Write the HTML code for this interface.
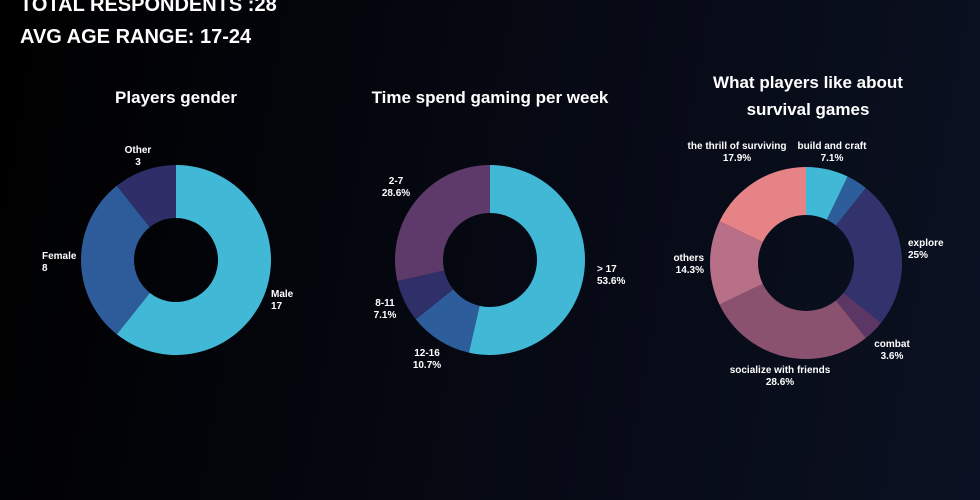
<!DOCTYPE html>
<html><head><meta charset="utf-8"><style>
body{margin:0;width:980px;height:500px;overflow:hidden;background:linear-gradient(100deg,#000 0%,#05070f 40%,#0b1122 100%);font-family:"Liberation Sans",sans-serif;color:#fff}
.hd{position:absolute;left:20px;font-weight:bold;font-size:20px}
svg{position:absolute;left:0;top:0}
</style></head><body>
<div class="hd" style="top:-6px">TOTAL RESPONDENTS :28</div>
<div class="hd" style="top:26px">AVG AGE RANGE: 17-24</div>
<svg id="s" width="980" height="500"></svg>
<script>
const g1Labels=["Male","Female","Other"];
const g1Values=[17,8,3];
const g1Text=["17","8","3"];
const g2Labels=["> 17","12-16","8-11","2-7"];
const g2Values=[15,3,2,8];
const g2Text=["53.6%","10.7%","7.1%","28.6%"];
const g3Labels=["build and craft","","explore","combat","socialize with friends","others","the thrill of surviving"];
const g3Values=[2,1,7,1,8,4,5];
const g3Text=["7.1%","","25%","3.6%","28.6%","14.3%","17.9%"];
const NS="http://www.w3.org/2000/svg",svg=document.getElementById('s');
function el(t,a){const e=document.createElementNS(NS,t);for(const k in a)e.setAttribute(k,a[k]);svg.appendChild(e);return e;}
function text(x,y,s,size,anchor,name){const t=el('text',{x:x,y:y,fill:'#fff','font-size':size,'font-weight':'bold','text-anchor':anchor,'font-family':'Liberation Sans, sans-serif'});t.textContent=s;return t;}
function donut(cx,cy,R,r,vals,cols,name){
 const tot=vals.reduce((a,b)=>a+b,0);let a0=0;
 vals.forEach((v,i)=>{const a1=a0+v/tot*2*Math.PI;
  const p=(a,rr)=>[cx+rr*Math.sin(a),cy-rr*Math.cos(a)];const L=(a1-a0)>Math.PI?1:0;
  const [x0,y0]=p(a0,R),[x1,y1]=p(a1,R),[x2,y2]=p(a1,r),[x3,y3]=p(a0,r);
  const path=el('path',{d:`M${x0},${y0}A${R},${R} 0 ${L} 1 ${x1},${y1}L${x2},${y2}A${r},${r} 0 ${L} 0 ${x3},${y3}Z`,fill:cols[i]});
  
  
  a0=a1;});
}
function labels(names,vals,pos,name){pos.forEach((d,i)=>{if(!names[i])return;text(d[0],d[1],names[i],10,d[2],name+'-label-'+i);text(d[0],d[1]+12,vals[i],10,d[2],name+'-value-'+i);});}
text(176,103,"Players gender",17,'middle','chart1-title');
text(490,103,"Time spend gaming per week",17,'middle','chart2-title');
text(808,88,"What players like about",17,'middle','chart3-title-1');
text(808,115,"survival games",17,'middle','chart3-title-2');
donut(176,260,95,42,g1Values,["#41b8d5","#2e5c9a","#2e2e68"],'gender');
donut(490,260,95,47,g2Values,["#41b8d5","#2d5e9b","#2f2f6a","#5e3a6a"],'time');
donut(806,263,96,48,g3Values,["#41b8d5","#2d5e9b","#32336d","#5c3766","#8b5270","#b86f88","#e58386"],'likes');
labels(g1Labels,g1Text,[[271,297,'start'],[42,259,'start'],[138,153,'middle']],'gender');
labels(g2Labels,g2Text,[[597,272,'start'],[427,356,'middle'],[385,306,'middle'],[396,184,'middle']],'time');
labels(g3Labels,g3Text,[[832,149,'middle'],[0,0,'middle'],[908,246,'start'],[892,347,'middle'],[780,373,'middle'],[704,261,'end'],[737,149,'middle']],'likes');
</script>
</body></html>
